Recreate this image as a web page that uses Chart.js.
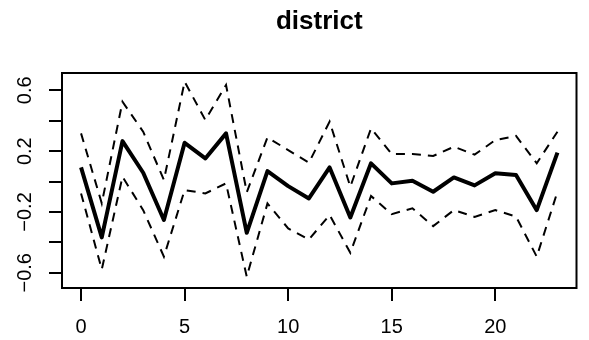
<!DOCTYPE html>
<html>
<head>
<meta charset="utf-8">
<script src="https://cdn.jsdelivr.net/npm/chart.js@4"></script>
<style>
  html, body { margin: 0; padding: 0; background: #fff; }
</style>
</head>
<body>
<canvas id="lagChart" width="589" height="340"></canvas>
<script>
// lag index on the x axis
const lags = [0, 1, 2, 3, 4, 5, 6, 7, 8, 9, 10, 11, 12, 13, 14, 15, 16, 17, 18, 19, 20, 21, 22, 23];
// point estimate and its upper / lower band
const estimate = [0.093, -0.367, 0.266, 0.058, -0.253, 0.255, 0.152, 0.317, -0.337, 0.069, -0.030, -0.111,
                  0.093, -0.236, 0.120, -0.012, 0.005, -0.067, 0.027, -0.025, 0.054, 0.043, -0.188, 0.190];
const upper = [0.317, -0.143, 0.525, 0.328, 0.010, 0.657, 0.405, 0.635, -0.070, 0.290, 0.207, 0.124,
               0.394, -0.034, 0.350, 0.181, 0.181, 0.168, 0.229, 0.177, 0.273, 0.300, 0.120, 0.328];
const lower = [-0.078, -0.578, 0.032, -0.188, -0.494, -0.056, -0.078, -0.012, -0.626, -0.144, -0.308, -0.381,
               -0.220, -0.468, -0.095, -0.214, -0.176, -0.293, -0.188, -0.232, -0.188, -0.230, -0.494, -0.067];

const xTicks = [0, 5, 10, 15, 20];
const yTicks = [-0.6, -0.4, -0.2, 0, 0.2, 0.4, 0.6];
const yTickLabels = ['\u22120.6', '', '\u22120.2', '', '0.2', '', '0.6'];

const FONT = "'Liberation Sans', Arial, Helvetica, sans-serif";

const toPoints = vals => vals.map((v, i) => ({ x: lags[i], y: v }));

// frame around the plotting region
const boxPlugin = {
    id: 'box',
    afterDraw(chart) {
        const { ctx, chartArea: a } = chart;
        ctx.save();
        ctx.strokeStyle = '#000';
        ctx.lineWidth = 2;
        ctx.strokeRect(a.left, a.top, a.right - a.left, a.bottom - a.top);
        ctx.restore();
    }
};

const band = {
    borderColor: '#000',
    borderWidth: 2,
    borderDash: [9, 7],
    pointRadius: 0,
    tension: 0,
    fill: false
};

const ctx = document.getElementById('lagChart').getContext('2d');
new Chart(ctx, {
    type: 'line',
    data: {
        datasets: [
            { ...band, data: toPoints(upper) },
            { ...band, data: toPoints(lower) },
            {
                data: toPoints(estimate),
                borderColor: '#000',
                borderWidth: 4,
                borderJoinStyle: 'round',
                pointRadius: 0,
                tension: 0,
                fill: false
            }
        ]
    },
    options: {
        responsive: false,
        animation: false,
        layout: { padding: { left: 0, right: 12.5, top: 0, bottom: 0 } },
        plugins: {
            legend: { display: false },
            tooltip: { enabled: false },
            title: {
                display: true,
                text: 'district',
                color: '#000',
                fullSize: false,
                font: { family: FONT, size: 26, weight: 'bold', lineHeight: 1.2 },
                padding: { top: 6.4, bottom: 35.4 }
            }
        },
        scales: {
            x: {
                type: 'linear',
                min: -0.92,
                max: 23.92,
                afterBuildTicks: s => { s.ticks = xTicks.map(v => ({ value: v })); },
                afterFit: s => { s.height = 52; },
                ticks: {
                    color: '#000',
                    autoSkip: false,
                    maxRotation: 0,
                    padding: 14,
                    font: { family: FONT, size: 20 }
                },
                grid: { drawOnChartArea: false, drawTicks: true, tickLength: 13, color: '#000', lineWidth: 2 },
                border: { display: false }
            },
            y: {
                min: -0.70,
                max: 0.714,
                afterBuildTicks: s => { s.ticks = yTicks.map(v => ({ value: v })); },
                afterFit: s => { s.width = 62; },
                ticks: {
                    color: '#000',
                    autoSkip: false,
                    minRotation: 90,
                    maxRotation: 90,
                    crossAlign: 'center',
                    padding: 4,
                    font: { family: FONT, size: 20 },
                    callback: (v, i) => yTickLabels[i]
                },
                grid: { drawOnChartArea: false, drawTicks: true, tickLength: 13, color: '#000', lineWidth: 2 },
                border: { display: false }
            }
        }
    },
    plugins: [boxPlugin]
});
</script>
</body>
</html>
